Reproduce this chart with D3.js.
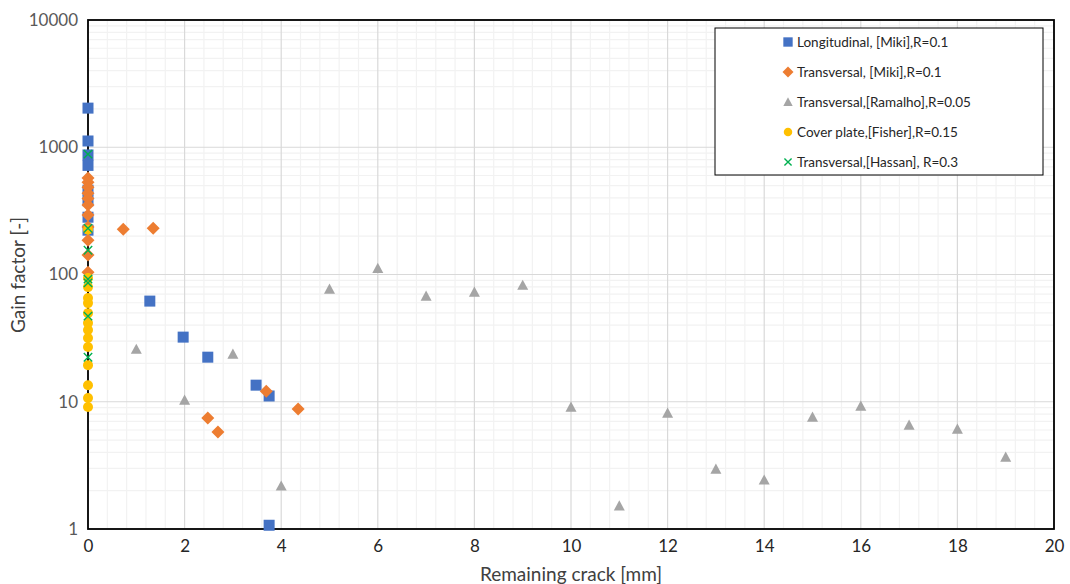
<!DOCTYPE html>
<html><head><meta charset="utf-8">
<script src="https://cdn.jsdelivr.net/npm/d3@7"></script>
<style>body{margin:0;background:#fff}svg{display:block}text{font-family:Lato,"Open Sans",sans-serif}</style>
</head><body><svg id="c" width="1070" height="584"></svg>
<script>
// Data (x = remaining crack [mm], y = gain factor [-])
const longMikiX = [0,0,0,0,0,0,0,0, 1.28,1.97,2.48,3.48,3.75,3.75];
const longMikiY = [2030,1120,870,720,460,380,282,223, 61.8,32.2,22.4,13.5,11.1,1.07];
const transMikiX = [0,0,0,0,0,0,0,0,0,0,0, 0.73,1.35,2.48,2.69,3.69,4.35];
const transMikiY = [572,530,486,436,395,351,293,236,186,142,104, 227,231,7.45,5.78,12.1,8.77];
const ramalhoX = [1,2,3,4,5,6,7,8,9,10,11,12,13,14,15,16,17,18,19];
const ramalhoY = [25.9,10.3,23.7,2.18,76.8,112,67.7,72.7,82.5,9.09,1.52,8.15,2.96,2.43,7.58,9.25,6.56,6.11,3.68];
const fisherX = [0,0,0,0,0,0,0,0,0,0,0,0,0,0];
const fisherY = [225,93.7,79.6,65.3,59.6,49.7,41.5,36.6,31.7,26.9,19.4,13.5,10.7,9.1];
const hassanX = [0,0,0,0,0,0,0];
const hassanY = [883,231,155,92,86,47.1,22.4];
const xTicks = [0,2,4,6,8,10,12,14,16,18,20];
const yTicks = [1,10,100,1000,10000];
const seriesNames = ["Longitudinal, [Miki],R=0.1","Transversal, [Miki],R=0.1","Transversal,[Ramalho],R=0.05","Cover plate,[Fisher],R=0.15","Transversal,[Hassan], R=0.3"];
const seriesColors = ["#4472C4","#ED7D31","#A5A5A5","#FFC000","#00B050"];
const seriesShapes = ["square","diamond","triangle","circle","cross"];

const series = [
  {x: longMikiX, y: longMikiY},
  {x: transMikiX, y: transMikiY},
  {x: ramalhoX, y: ramalhoY},
  {x: fisherX, y: fisherY},
  {x: hassanX, y: hassanY}
];

const svg = d3.select("#c");
const L=88, R=1054, T=20, B=529;
const x = d3.scaleLinear().domain([0,20]).range([L,R]);
const y = d3.scaleLog().domain([1,10000]).range([B,T]);

const g = svg.append("g");
const xMinor = d3.range(0,20.001,0.4).filter(v=>Math.abs(v/2-Math.round(v/2))>1e-6);
g.selectAll(".xm").data(xMinor).join("line")
  .attr("x1",d=>x(d)).attr("x2",d=>x(d)).attr("y1",T).attr("y2",B)
  .attr("stroke","#f2f2f2").attr("stroke-width",1.2);
const yMinor=[];
for(let e=0;e<4;e++) for(let k=2;k<=9;k++) yMinor.push(k*Math.pow(10,e));
g.selectAll(".ym").data(yMinor).join("line")
  .attr("x1",L).attr("x2",R).attr("y1",d=>y(d)).attr("y2",d=>y(d))
  .attr("stroke","#f2f2f2").attr("stroke-width",1.2);
g.selectAll(".xM").data(xTicks).join("line")
  .attr("x1",d=>x(d)).attr("x2",d=>x(d)).attr("y1",T).attr("y2",B)
  .attr("stroke","#d9d9d9").attr("stroke-width",1.2);
g.selectAll(".yM").data(yTicks).join("line")
  .attr("x1",L).attr("x2",R).attr("y1",d=>y(d)).attr("y2",d=>y(d))
  .attr("stroke","#d9d9d9").attr("stroke-width",1.2);

const xAxis = svg.append("g").attr("transform",`translate(0,${B})`)
  .call(d3.axisBottom(x).tickValues(xTicks).tickSize(0).tickPadding(11).tickFormat(d3.format("d")));
xAxis.select(".domain").remove();
xAxis.selectAll("text").attr("font-size",17).attr("fill","#262626");
const yAxis = svg.append("g").attr("transform",`translate(${L},0)`)
  .call(d3.axisLeft(y).tickValues(yTicks).tickSize(0).tickPadding(10).tickFormat(d3.format("d")));
yAxis.select(".domain").remove();
yAxis.selectAll("text").attr("font-size",17).attr("fill","#595959");

svg.append("rect").attr("x",L).attr("y",T).attr("width",R-L).attr("height",B-T)
  .attr("fill","none").attr("stroke","#000").attr("stroke-width",1.8);

svg.append("text").attr("x",(L+R)/2).attr("y",581).attr("text-anchor","middle")
  .attr("font-size",19).attr("fill","#404040").text("Remaining crack [mm]");
svg.append("text").attr("transform","translate(25,275) rotate(-90)").attr("text-anchor","middle")
  .attr("font-size",19).attr("fill","#404040").text("Gain factor [-]");

function drawMarker(sel, shape, color, cx, cy, legend){
  const s = legend?0.85:1;
  if(shape==="square"){
    sel.append("rect").attr("x",cx-5.5*s).attr("y",cy-5.5*s).attr("width",11*s).attr("height",11*s).attr("fill",color);
  } else if(shape==="diamond"){
    const r=6.5*s;
    sel.append("path").attr("d",`M${cx},${cy-r}L${cx+r},${cy}L${cx},${cy+r}L${cx-r},${cy}Z`).attr("fill",color);
  } else if(shape==="triangle"){
    const r=5.5*s;
    sel.append("path").attr("d",`M${cx},${cy-r}L${cx+r},${cy+r*0.85}L${cx-r},${cy+r*0.85}Z`).attr("fill",color);
  } else if(shape==="circle"){
    sel.append("circle").attr("cx",cx).attr("cy",cy).attr("r",5*s).attr("fill",color);
  } else {
    const r=4.2*s;
    sel.append("path").attr("d",`M${cx-r},${cy-r}L${cx+r},${cy+r}M${cx-r},${cy+r}L${cx+r},${cy-r}`)
      .attr("stroke",color).attr("stroke-width",1.4).attr("fill","none");
  }
}

const marks = svg.append("g");
series.forEach((s,i)=>{
  s.x.forEach((xv,j)=>{
    drawMarker(marks, seriesShapes[i], seriesColors[i], x(xv), y(s.y[j]), false);
  });
});

const lg = svg.append("g");
lg.append("rect").attr("x",715).attr("y",28).attr("width",328).attr("height",147)
  .attr("fill","#fff").attr("stroke","#000").attr("stroke-width",1);
seriesNames.forEach((n,i)=>{
  const cy = 42 + i*30;
  drawMarker(lg, seriesShapes[i], seriesColors[i], 788, cy, true);
  lg.append("text").attr("x",797).attr("y",cy+5).attr("font-size",13.5).attr("fill","#262626").text(n);
});
</script></body></html>
